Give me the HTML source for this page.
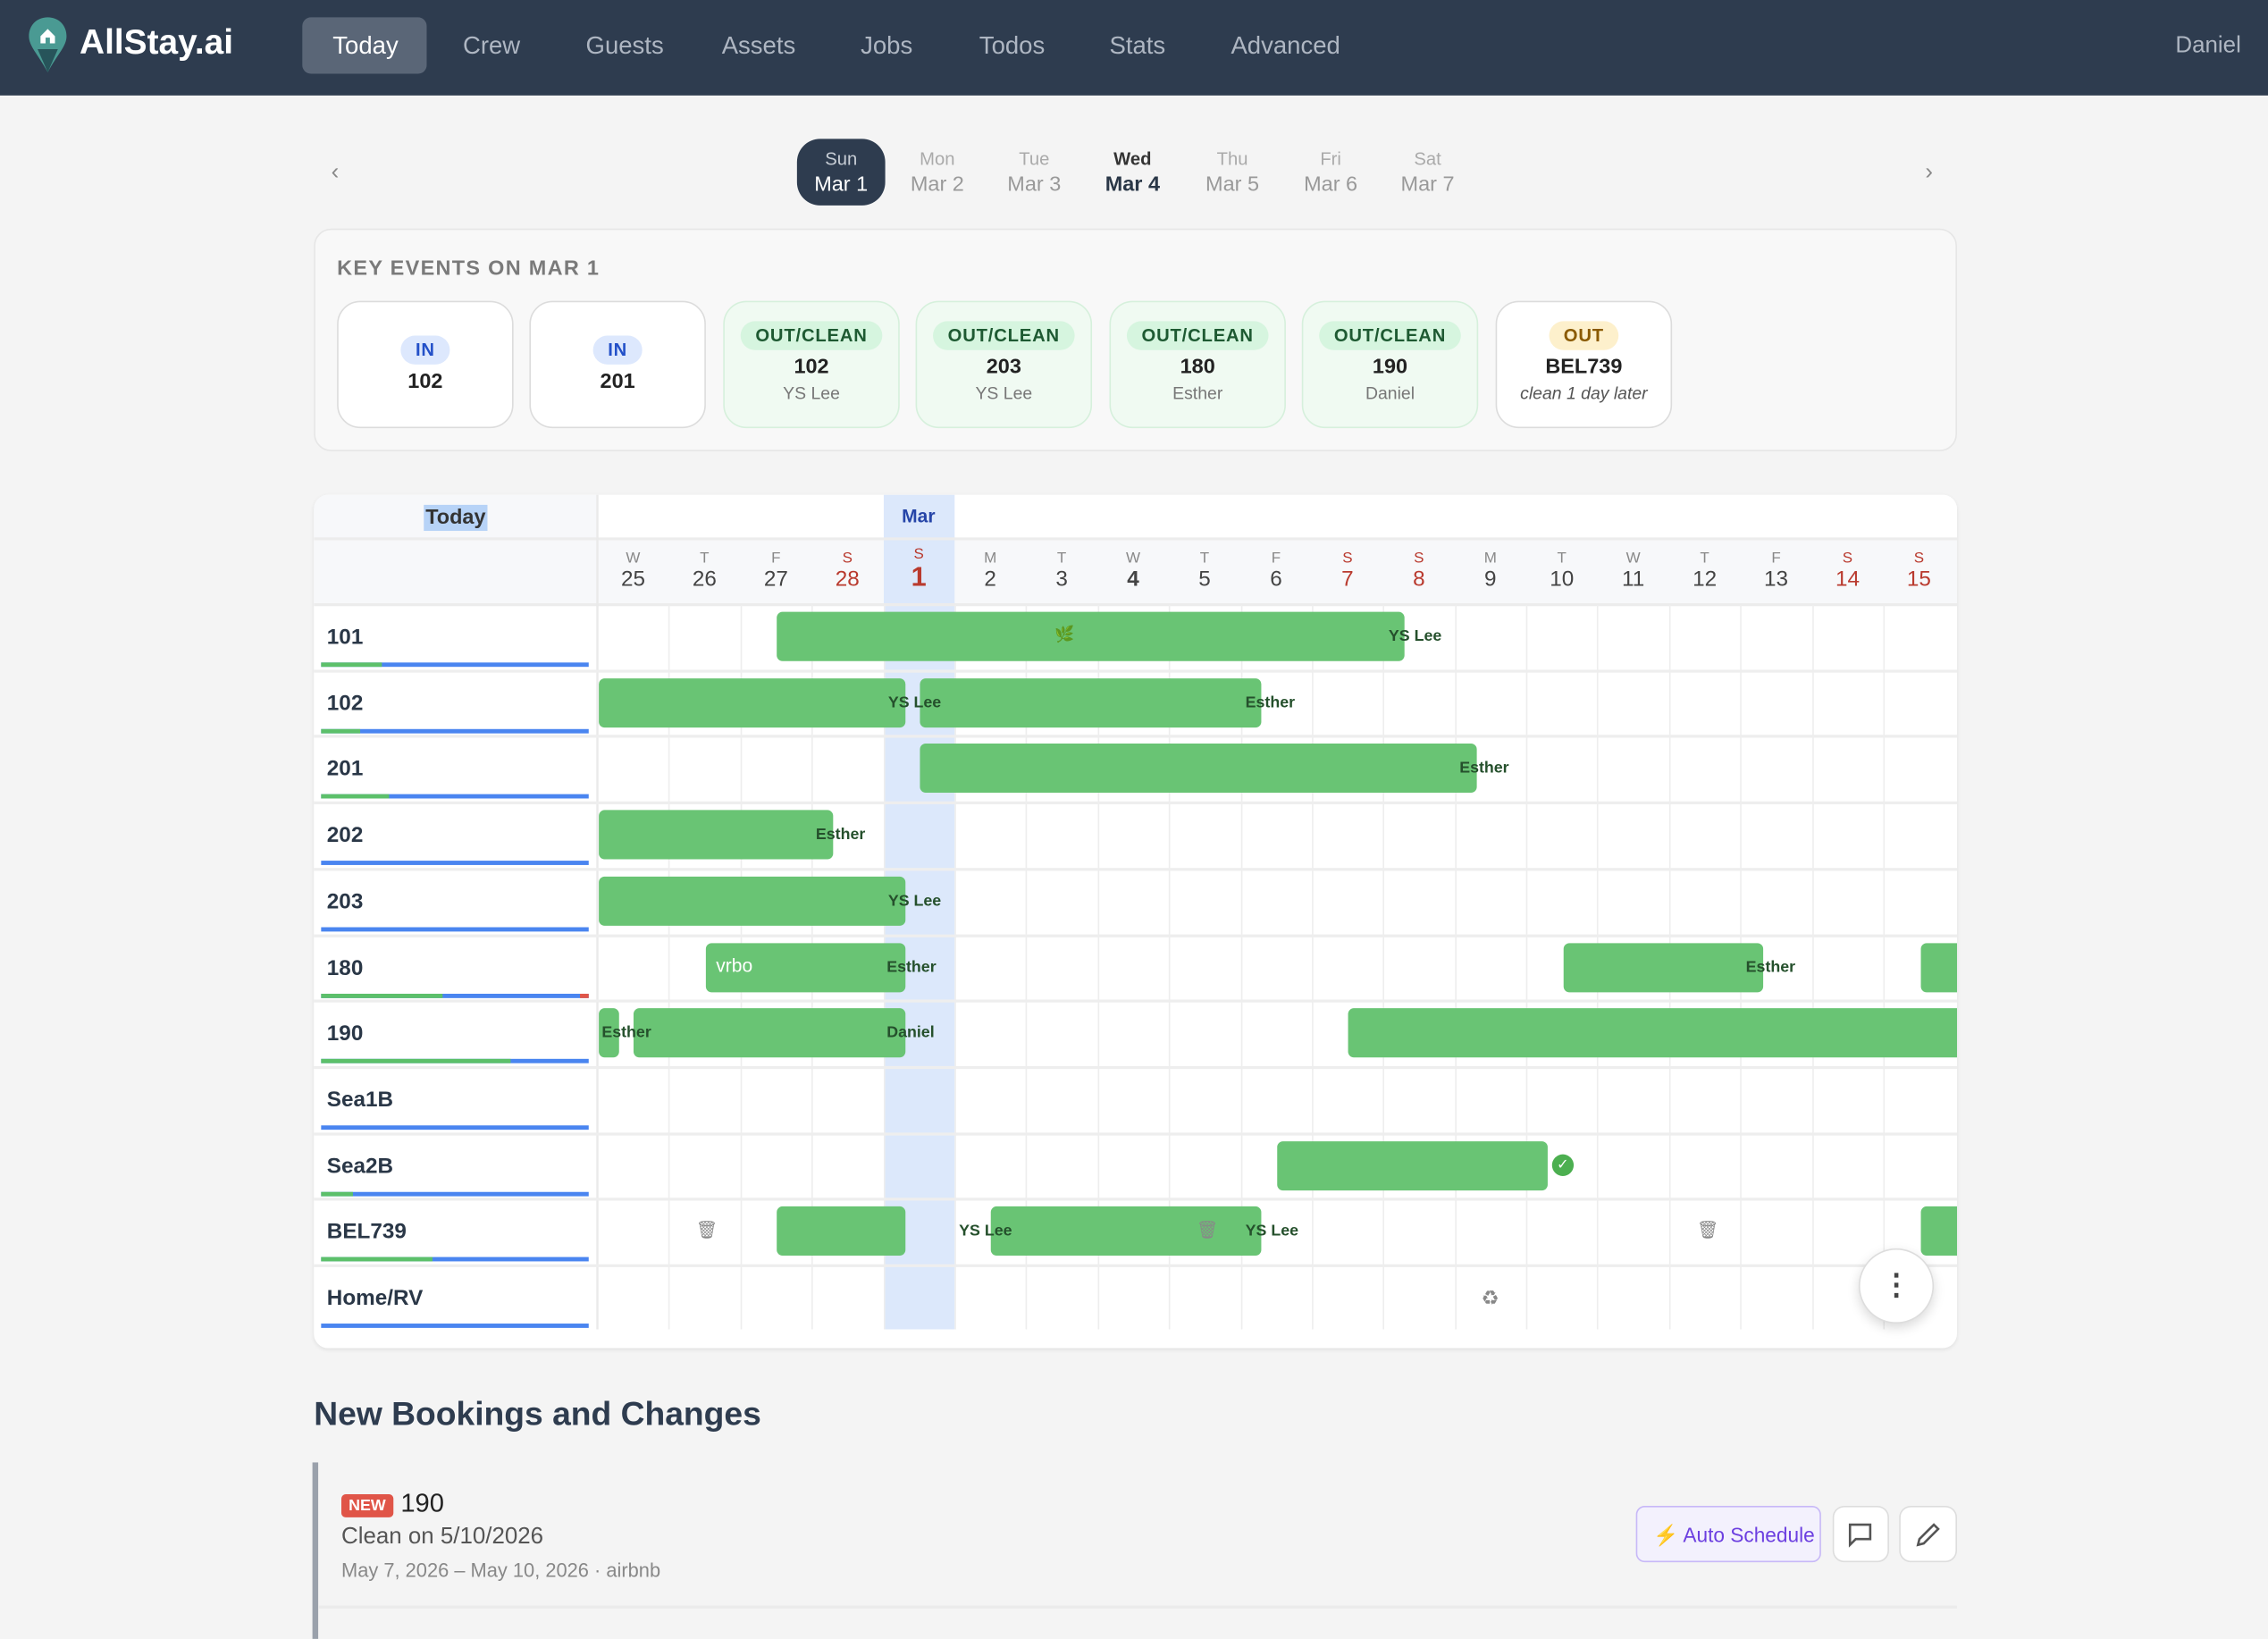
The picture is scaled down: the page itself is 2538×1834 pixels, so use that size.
<!DOCTYPE html>
<html><head><meta charset="utf-8"><style>
*{box-sizing:border-box;margin:0;padding:0}
html,body{width:2538px;height:1833px;overflow:hidden;background:#f4f4f4;font-family:"Liberation Sans",sans-serif}
#w{position:absolute;left:0;top:0;width:1568px;height:1133px;transform:scale(1.61862);transform-origin:0 0;background:#f4f4f4}
.a{position:absolute}
.nav{left:0;top:0;width:1568px;height:66px;background:#2e3c4f}
.ni{top:22px;font-size:17px;color:#aeb6c2}
.ec{width:122px;height:88px;border:1.5px solid #dcdcdc;border-radius:16px;background:#fff;text-align:center}
.ec.g{background:#f0faf2;border-color:#d6f0dc}
.tag{display:inline-block;margin-top:13px;font-size:12.5px;font-weight:bold;padding:3px 10px;border-radius:10px;letter-spacing:.5px}
.rm{font-size:14.5px;font-weight:bold;color:#222;margin-top:4px}
.sb{font-size:12px;color:#777;margin-top:3px}
.bar{background:#69c474;border-radius:4px;height:34px;z-index:1}
.lb{font-size:11px;font-weight:bold;color:#25502c;line-height:12px;z-index:3}
.rn{left:226px;font-size:15px;font-weight:bold;color:#2a3747}
.vl{width:1px;background:#eeeeee}
.hl{height:2px;background:#eeeeee}
</style></head><body><div id="w">
<div class="a nav"></div>
<svg class="a" style="left:18px;top:10px" width="30" height="42" viewBox="0 0 30 42"><path d="M15 2C7 2 2 8 2 15c0 7 6 12 13 25C22 27 28 22 28 15 28 8 23 2 15 2z" fill="#4a9a93"/><path d="M8 24l7 16 7-16z" fill="#27545a"/><path d="M10 15l5-5 5 5v5h-10z" fill="#fff"/><rect x="13.5" y="16" width="3" height="4" fill="#4a9a93"/></svg>
<div class="a" style="left:55px;top:16px;font-size:24px;font-weight:bold;color:#fff">AllStay.ai</div>
<div class="a" style="left:209px;top:12px;width:86px;height:39px;background:#5a6677;border-radius:6px"></div>
<div class="a ni" style="left:230px;color:#fff">Today</div>
<div class="a ni" style="left:320px">Crew</div>
<div class="a ni" style="left:405px">Guests</div>
<div class="a ni" style="left:499px">Assets</div>
<div class="a ni" style="left:595px">Jobs</div>
<div class="a ni" style="left:677px">Todos</div>
<div class="a ni" style="left:767px">Stats</div>
<div class="a ni" style="left:851px">Advanced</div>
<div class="a ni" style="left:1504px;top:23px;font-size:16px">Daniel</div>

<div class="a" style="left:229px;top:111px;font-size:16px;color:#888">‹</div>
<div class="a" style="left:1331px;top:111px;font-size:16px;color:#888">›</div>
<div class="a" style="left:551px;top:96px;width:61px;height:46px;background:#2e3c4f;border-radius:16px"></div>
<div class="a" style="left:551px;top:103px;width:61px;text-align:center;color:#c8ced6;font-size:12.5px">Sun<br><span style="color:#fff;font-size:14.5px;line-height:22px">Mar 1</span></div>
<div class="a" style="left:618px;top:103px;width:60px;text-align:center;color:#aaa;font-size:12.5px">Mon<br><span style="color:#999;font-size:14.5px;line-height:22px">Mar 2</span></div>
<div class="a" style="left:685px;top:103px;width:60px;text-align:center;color:#aaa;font-size:12.5px">Tue<br><span style="color:#999;font-size:14.5px;line-height:22px">Mar 3</span></div>
<div class="a" style="left:753px;top:103px;width:60px;text-align:center;color:#333;font-size:12.5px;font-weight:bold">Wed<br><span style="color:#2a3747;font-size:14.5px;line-height:22px">Mar 4</span></div>
<div class="a" style="left:822px;top:103px;width:60px;text-align:center;color:#aaa;font-size:12.5px">Thu<br><span style="color:#999;font-size:14.5px;line-height:22px">Mar 5</span></div>
<div class="a" style="left:890px;top:103px;width:60px;text-align:center;color:#aaa;font-size:12.5px">Fri<br><span style="color:#999;font-size:14.5px;line-height:22px">Mar 6</span></div>
<div class="a" style="left:957px;top:103px;width:60px;text-align:center;color:#aaa;font-size:12.5px">Sat<br><span style="color:#999;font-size:14.5px;line-height:22px">Mar 7</span></div>

<div class="a" style="left:217px;top:158px;width:1136px;height:154px;background:#f8f8f8;border:1.5px solid #e6e6e6;border-radius:12px"></div>
<div class="a" style="left:233px;top:178px;font-size:14.5px;font-weight:bold;color:#7a7a7a;letter-spacing:.8px">KEY EVENTS ON MAR 1</div>
<div class="a ec" style="left:233px;top:208px"><div class="tag" style="background:#dde8fd;color:#2350c8;margin-top:23px">IN</div><div class="rm">102</div></div>
<div class="a ec" style="left:366px;top:208px"><div class="tag" style="background:#dde8fd;color:#2350c8;margin-top:23px">IN</div><div class="rm">201</div></div>
<div class="a ec g" style="left:500px;top:208px"><div class="tag" style="background:#d6f5df;color:#1e5a32">OUT/CLEAN</div><div class="rm">102</div><div class="sb">YS Lee</div></div>
<div class="a ec g" style="left:633px;top:208px"><div class="tag" style="background:#d6f5df;color:#1e5a32">OUT/CLEAN</div><div class="rm">203</div><div class="sb">YS Lee</div></div>
<div class="a ec g" style="left:767px;top:208px"><div class="tag" style="background:#d6f5df;color:#1e5a32">OUT/CLEAN</div><div class="rm">180</div><div class="sb">Esther</div></div>
<div class="a ec g" style="left:900px;top:208px"><div class="tag" style="background:#d6f5df;color:#1e5a32">OUT/CLEAN</div><div class="rm">190</div><div class="sb">Daniel</div></div>
<div class="a ec" style="left:1034px;top:208px"><div class="tag" style="background:#fdf0cc;color:#8a5a00">OUT</div><div class="rm">BEL739</div><div class="sb" style="font-style:italic;color:#555">clean 1 day later</div></div>

<div class="a" style="left:217px;top:342px;width:1136px;height:590px;background:#fff;border-radius:10px;box-shadow:0 1px 3px rgba(0,0,0,.08);overflow:hidden">
<svg width="1136" height="590" style="position:absolute;left:0;top:0" font-family="Liberation Sans, sans-serif">
<rect x="0" y="0" width="196" height="590" fill="#fff"/>
<rect x="0" y="0" width="1136" height="76" fill="#f7f8fa"/>
<rect x="196" y="0" width="940" height="30" fill="#fff"/>
<rect x="394" y="0" width="49" height="577" fill="#dce8fb"/>
<rect x="76" y="7" width="44" height="18" fill="#b7d3f7"/>
<text x="98" y="20" text-anchor="middle" font-size="14.5" font-weight="bold" fill="#333">Today</text>
<text x="418" y="19" text-anchor="middle" font-size="13" font-weight="bold" fill="#2645a8">Mar</text>
<line x1="0" y1="30.5" x2="1136" y2="30.5" stroke="#ececec" stroke-width="2"/>
<line x1="0" y1="76" x2="1136" y2="76" stroke="#ececec" stroke-width="2"/>
<line x1="196" y1="0" x2="196" y2="577" stroke="#eaeaea" stroke-width="1.5"/>
</svg>
</div>

<div class="a" style="left:217px;top:964px;font-size:23px;font-weight:bold;color:#2e3c4f">New Bookings and Changes</div>
<div class="a" style="left:216px;top:1011px;width:4px;height:122px;background:#9aa1ab"></div>
<div class="a" style="left:220px;top:1110px;width:1133px;height:2px;background:#ebebeb"></div>
<div class="a" style="left:236px;top:1033px;background:#e05548;color:#fff;font-size:11px;font-weight:bold;padding:2px 5px;border-radius:3px">NEW</div>
<div class="a" style="left:277px;top:1029px;font-size:18px;color:#222">190</div>
<div class="a" style="left:236px;top:1054px;font-size:16px;color:#555">Clean on 5/10/2026</div>
<div class="a" style="left:236px;top:1078px;font-size:13.5px;color:#888">May 7, 2026 – May 10, 2026 · airbnb</div>
<div class="a" style="left:1131px;top:1041px;width:128px;height:39px;border:1.5px solid #c7b8f7;background:#f3f1fd;border-radius:6px;font-size:14px;color:#6c3fe0;padding:11px 0 0 11px"><span style="color:#f0b429">⚡</span> Auto Schedule</div>
<div class="a" style="left:1267px;top:1041px;width:39px;height:39px;border:1.5px solid #ddd;background:#fff;border-radius:8px"></div>
<svg class="a" style="left:1277px;top:1052px" width="18" height="18" viewBox="0 0 18 18"><path d="M2 2h14v10H6l-4 4z" fill="none" stroke="#555" stroke-width="1.6"/></svg>
<div class="a" style="left:1313px;top:1041px;width:40px;height:39px;border:1.5px solid #ddd;background:#fff;border-radius:8px"></div>
<svg class="a" style="left:1323px;top:1051px" width="20" height="20" viewBox="0 0 20 20"><path d="M3 17l1-4 10-10 3 3-10 10z" fill="none" stroke="#555" stroke-width="1.6"/></svg>
</div>
<script>
(function(){
var w=document.getElementById('w');
var L='WTFSSMTWTFSSMTWTFSS',D=[25,26,27,28,1,2,3,4,5,6,7,8,9,10,11,12,13,14,15];
var cw=49.39,x0=413,h='';
for(var i=0;i<19;i++){var cx=x0+cw*i+cw/2,red=L[i]=='S',bold=(i==4||i==7);
h+='<div class="a" style="left:'+(cx-20)+'px;top:'+(i==4?377:380)+'px;width:40px;text-align:center;font-size:10.5px;color:'+(red?'#b93a2e':'#888')+'">'+L[i]+'</div>';
h+='<div class="a" style="left:'+(cx-20)+'px;top:'+(i==4?389:392)+'px;width:40px;text-align:center;font-size:'+(i==4?19:15)+'px;font-weight:'+(bold?'bold':'normal')+';color:'+(red?'#b93a2e':'#444')+'">'+D[i]+'</div>';
if(i>0)h+='<div class="a vl" style="left:'+(x0+cw*i)+'px;top:418px;height:501px"></div>';}
var R=['101','102','201','202','203','180','190','Sea1B','Sea2B','BEL739','Home/RV'];
var G=[42,27,47,0,0,84,131,0,22,77,0];
for(var k=0;k<11;k++){var y=418+k*45.7;
if(k>0)h+='<div class="a hl" style="left:217px;top:'+(y-1)+'px;width:1136px"></div>';
h+='<div class="a rn" style="top:'+(y+14)+'px">'+R[k]+'</div>';
h+='<div class="a" style="left:222px;top:'+(y+40)+'px;width:185px;height:3px;background:#4a85f0"></div>';
if(G[k])h+='<div class="a" style="left:222px;top:'+(y+40)+'px;width:'+G[k]+'px;height:3px;background:#5cc06a"></div>';
if(k==5)h+='<div class="a" style="left:401px;top:'+(y+40)+'px;width:6px;height:3px;background:#e05548"></div>';}
function bar(k,a,b){var y=418+k*45.7+5;h+='<div class="a bar" style="left:'+a+'px;top:'+y+'px;width:'+(b-a)+'px'+(b>1350?';border-radius:4px 0 0 4px':'')+'"></div>';}
function lab(k,x,t,c){var y=418+k*45.7+16;h+='<div class="a lb" style="left:'+x+'px;top:'+y+'px'+(c?';color:'+c+';font-size:13px;font-weight:normal;top:'+(y-1)+'px':'')+'">'+t+'</div>';}
function ic(k,x,t,s){var y=418+k*45.7+14;h+='<div class="a" style="z-index:2;left:'+x+'px;top:'+y+'px;font-size:'+(s||12)+'px;color:#888">'+t+'</div>';}
bar(0,537,971);lab(0,960,'YS Lee');ic(0,729,'🌿',11);
bar(1,414,626);lab(1,614,'YS Lee');bar(1,636,872);lab(1,861,'Esther');
bar(2,636,1021);lab(2,1009,'Esther');
bar(3,414,576);lab(3,564,'Esther');
bar(4,414,626);lab(4,614,'YS Lee');
bar(5,488,626);lab(5,495,'vrbo','#fff');lab(5,613,'Esther');bar(5,1081,1219);lab(5,1207,'Esther');bar(5,1328,1353);
bar(6,414,428);lab(6,416,'Esther');bar(6,438,626);lab(6,613,'Daniel');bar(6,932,1353);
bar(8,883,1070);
h+='<div class="a" style="left:1073px;top:798px;width:15px;height:15px;border-radius:50%;background:#4caf50;color:#fff;font-size:10px;text-align:center;line-height:15px">✓</div>';
bar(9,537,626);bar(9,685,872);bar(9,1328,1353);lab(9,663,'YS Lee');lab(9,861,'YS Lee');
ic(9,481,'🗑');ic(9,827,'🗑');ic(9,1173,'🗑');
ic(10,1024,'♻',14);
h+='<div class="a" style="z-index:4;left:1285px;top:863px;width:52px;height:52px;border-radius:50%;background:#fff;border:1px solid #ddd;box-shadow:0 3px 8px rgba(0,0,0,.15);text-align:center;font-size:20px;line-height:50px;color:#444;font-weight:bold">⋮</div>';
var d=document.createElement('div');d.innerHTML=h;while(d.firstChild)w.appendChild(d.firstChild);
})();
</script>
</body></html>
